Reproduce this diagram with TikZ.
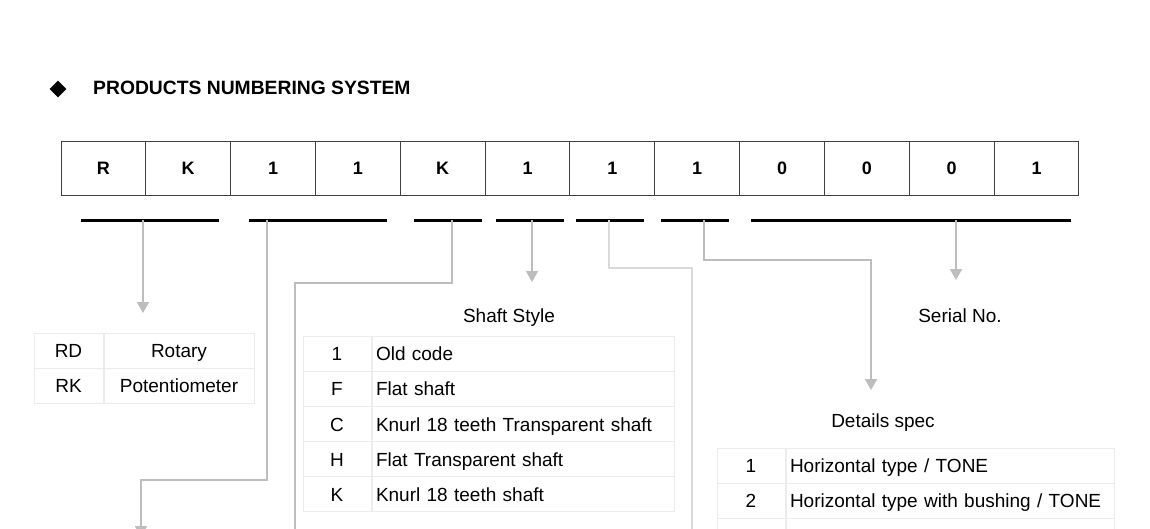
\documentclass[tikz,border=0pt]{standalone}
\usepackage{fontspec}
\setmainfont{Liberation Sans}
\usetikzlibrary{arrows.meta,positioning,shapes.geometric}

\definecolor{linkgray}{HTML}{BDBDBD}
\definecolor{paleline}{HTML}{D9D9D9}
\definecolor{tabline}{HTML}{ECECEC}

\begin{document}
\begin{tikzpicture}[x=1pt,y=-1pt,
    >={Triangle[length=11pt,width=12pt]},
    cell/.style={draw=black!75,line width=1pt,minimum width=84.83pt,minimum height=54pt,
                 inner sep=0pt,font=\fontsize{18}{20}\selectfont\bfseries},
    bar/.style={line width=3pt},
    link/.style={draw=linkgray,line width=1.8pt},
    txt/.style={font=\fontsize{19}{22}\selectfont,inner sep=0pt,text height=14pt,text depth=4pt},
    codecell/.style={draw=tabline,line width=1pt,minimum height=35pt,inner sep=0pt,
                     text height=16pt,text depth=2pt,font=\fontsize{19}{22}\selectfont},
    desccell/.style={codecell,inner sep=4pt,align=left}]
  \useasboundingbox (0,0) rectangle (1150,528);
  \clip (0,0) rectangle (1150,528);

  % heading
  \node[diamond,fill=black,minimum width=17pt,minimum height=17pt,inner sep=0pt] (mark) at (58,89) {};
  \node[anchor=west,inner sep=0pt,font=\fontsize{19.3}{22}\selectfont\bfseries] (title) at (93,88) {PRODUCTS NUMBERING SYSTEM};

  % code cells
  \foreach \t [count=\i] in {R,K,1,1,K,1,1,1,0,0,0,1}
    \node[cell] (c\i) at ({61+84.83*(\i-0.5)},168) {\t};

  % groups
  \foreach \a/\b in {81/219,249/387,414/482,496/564,576/644,661/729,751/1071}
    \draw[bar] (\a,220) -- (\b,220);
  \foreach \x [count=\i] in {143,267,452,532,609,704,956}
    \coordinate (u\i) at (\x,220);

  % free ends
  \coordinate (t1) at (143,313);
  \coordinate (t2) at (141,537);
  \coordinate (t3) at (295,540);
  \coordinate (t4) at (532,282);
  \coordinate (t5) at (692,540);
  \coordinate (t6) at (871,390);
  \coordinate (t7) at (956,280);

  \draw[link,->] (u1) -- (t1);
  \draw[link,->] (u2) -- (267,480) -- (141,480) -- (t2);
  \draw[link] (u3) -- (452,283) -- (295,283) -- (t3);
  \draw[link,->] (u4) -- (t4);
  \draw[link,draw=paleline] (u5) -- (609,268) -- (692,268) -- (t5);
  \draw[link,->] (u6) -- (704,260) -- (871,260) -- (t6);
  \draw[link,->] (u7) -- (t7);

  % type table
  \foreach \k/\d [count=\r] in {RD/Rotary,RK/Potentiometer}{
    \node[codecell,minimum width=69pt] (rk\r) at (68.5,{333+35*(\r-0.5)}) {\k};
    \node[desccell,text width=142pt,align=center,right=0pt of rk\r] (rd\r) {\d};
  }

  % shaft table
  \node[txt] (shaft) at (509,317) {Shaft Style};
  \foreach \k/\d [count=\r] in {1/Old code,F/Flat shaft,C/Knurl 18 teeth Transparent shaft,
                                H/Flat Transparent shaft,K/Knurl 18 teeth shaft}{
    \node[codecell,minimum width=68pt] (sk\r) at (337,{336+35.2*(\r-0.5)}) {\k};
    \node[desccell,text width=294pt,right=0pt of sk\r] (sd\r) {\d};
  }

  \node[txt] (serial) at (960,317) {Serial No.};

  % details table
  \node[txt] (spec) at (883,422) {Details spec};
  \foreach \k/\d [count=\r] in {1/{Horizontal type / TONE},2/{Horizontal type with bushing / TONE},{}/{}}{
    \node[codecell,minimum width=68pt] (dk\r) at (751,{448+35*(\r-0.5)}) {\k};
    \node[desccell,text width=320pt,right=0pt of dk\r] (dd\r) {\d};
  }
\end{tikzpicture}
\end{document}
